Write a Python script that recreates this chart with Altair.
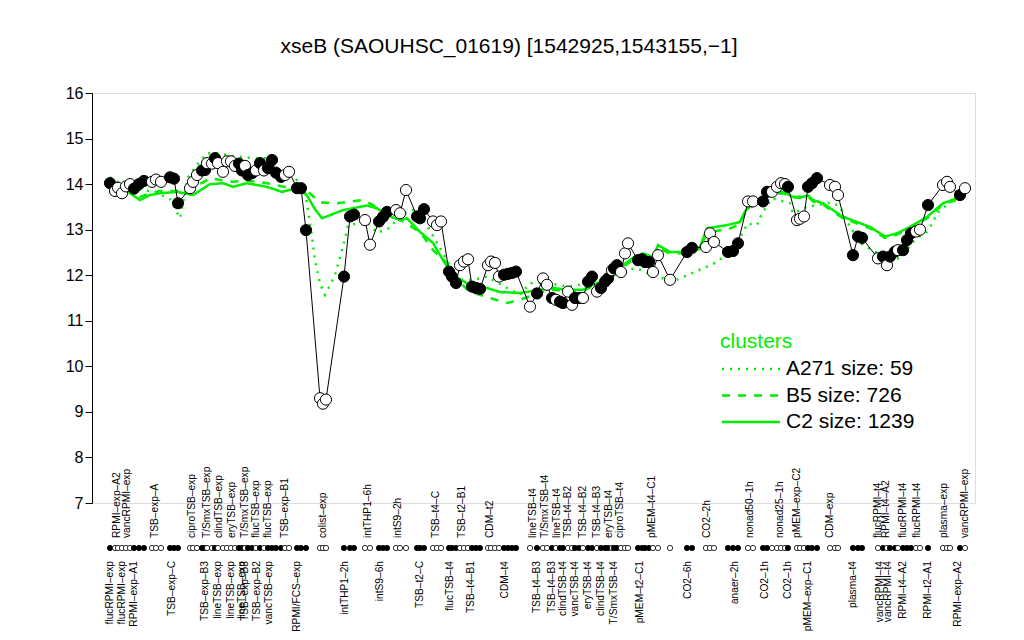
import altair as alt
import pandas as pd

TITLE = "xseB (SAOUHSC_01619) [1542925,1543155,\u22121]"
FONT = "Liberation Sans"
GREEN = "#00EE00"

# sample positions along the ordered sample axis, expression values, filled (1) / open (0)
pos = [110, 115, 118, 122, 126, 130, 134, 139, 144,
       152, 156, 161,
       170, 174, 178,
       190, 193, 197,
       202, 205, 207, 212, 215, 218, 223, 227, 231, 235, 239, 242, 245, 248, 252, 256,
       260, 264, 268, 272, 276, 281, 285, 289,
       297, 301, 306,
       320, 323, 326,
       344, 350, 354,
       365, 370,
       379, 383, 387,
       396, 400, 406,
       417, 420, 424,
       433, 437, 441,
       449, 452, 456,
       460, 464, 468,
       472, 476, 480,
       488, 491, 495, 499,
       504, 508, 512, 516,
       530, 537, 543, 547, 552, 556, 560, 563, 568, 572, 575, 579, 583, 588, 592, 597,
       601, 605, 608, 612, 614, 617, 621, 625, 628,
       638, 642, 645, 649,
       653, 658, 670,
       687, 692,
       706, 710, 714,
       728, 733, 738,
       748, 753,
       763, 767,
       772, 777, 781, 785, 788,
       797, 800, 804,
       808, 812, 817,
       830, 835, 838,
       853, 858, 862,
       878, 883, 887, 890, 895, 898, 903, 907, 911, 916, 920,
       928,
       943, 947, 950,
       960, 965]
val = [14.02, 13.85, 13.92, 13.80, 13.95, 14.00, 13.90, 14.00, 14.07,
       14.05, 14.10, 14.05,
       14.15, 14.12, 13.58,
       13.91, 14.05, 14.20,
       14.30, 14.31, 14.46, 14.45, 14.57, 14.46, 14.27, 14.50, 14.50, 14.40, 14.45, 14.30, 14.40, 14.20, 14.24, 14.30,
       14.46, 14.30, 14.35, 14.53, 14.25, 14.16, 14.20, 14.27,
       13.91, 13.91, 12.99,
       9.30, 9.18, 9.27,
       11.97, 13.29, 13.33,
       13.21, 12.67,
       13.18, 13.28, 13.39,
       13.43, 13.36, 13.87,
       13.29, 13.25, 13.45,
       13.18, 13.10, 13.18,
       12.08, 11.97, 11.83,
       12.22, 12.30, 12.35,
       11.75, 11.72, 11.70,
       12.22, 12.30, 12.27, 11.97,
       12.01, 12.03, 12.05, 12.08,
       11.31, 11.60, 11.93, 11.79, 11.50, 11.46, 11.42, 11.39, 11.64, 11.35, 11.50, 11.50, 11.50, 11.86, 11.97, 11.64,
       11.72, 11.86, 11.93, 12.11, 12.15, 12.22, 12.07, 12.48, 12.70,
       12.33, 12.35, 12.29, 12.29,
       12.07, 12.44, 11.90,
       12.51, 12.60,
       12.62, 12.92, 12.73,
       12.51, 12.53, 12.70,
       13.62, 13.62,
       13.62, 13.83,
       13.83, 13.94, 14.02, 14.00, 13.94,
       13.21, 13.24, 13.29,
       13.94, 14.02, 14.13,
       13.98, 13.94, 13.76,
       12.44, 12.85, 12.82,
       12.37, 12.41, 12.22, 12.41, 12.52, 12.55, 12.55, 12.77, 12.92, 12.96, 13.00,
       13.54,
       13.98, 14.05, 13.94,
       13.76, 13.91]
filled = [1, 0, 0, 0, 0, 0, 1, 1, 1,
          0, 0, 0,
          1, 1, 1,
          0, 0, 0,
          1, 1, 0, 0, 1, 0, 0, 0, 0, 0, 1, 1, 0, 1, 1, 0,
          1, 0, 1, 1, 1, 1, 0, 0,
          1, 1, 1,
          0, 0, 0,
          1, 1, 1,
          0, 0,
          1, 1, 1,
          0, 0, 0,
          1, 1, 1,
          0, 0, 0,
          1, 1, 1,
          0, 0, 0,
          1, 1, 1,
          0, 0, 0, 0,
          1, 1, 1, 1,
          0, 1, 0, 0, 1, 0, 1, 1, 0, 0, 1, 1, 0, 1, 1, 0,
          1, 1, 1, 0, 1, 1, 0, 0, 0,
          1, 1, 1, 1,
          0, 0, 0,
          1, 1,
          0, 0, 0,
          1, 1, 1,
          0, 0,
          1, 1,
          0, 0, 0, 0, 1,
          0, 0, 0,
          1, 1, 1,
          0, 0, 0,
          1, 1, 1,
          0, 1, 0, 1, 1, 0, 1, 1, 1, 0, 0,
          1,
          0, 0, 0,
          1, 0]

# sample-name tick labels (upper row and lower row)
top_labels = ["RPMI\u2013exp\u2013A2", "vancRPMI\u2013exp", "TSB\u2013exp\u2013A", "ciproTSB\u2013exp",
              "T/SmxTSB\u2013exp", "clindTSB\u2013exp", "eryTSB\u2013exp", "T/SmxTSB\u2013exp",
              "flucTSB\u2013exp", "flucTSB\u2013exp", "TSB\u2013exp\u2013B1", "colist\u2013exp",
              "intTHP1\u20136h", "intS9\u20132h", "TSB\u2013t4\u2013C", "TSB\u2013t2\u2013B1", "CDM\u2013t2",
              "lineTSB\u2013t4", "T/SmxTSB\u2013t4", "lineTSB\u2013t4", "TSB\u2013t4\u2013B2",
              "TSB\u2013t4\u2013B2", "TSB\u2013t4\u2013B3", "eryTSB\u2013t4", "ciproTSB\u2013t4",
              "pMEM\u2013t4\u2013C1", "CO2\u20132h", "nonad50\u20131h", "nonad25\u20131h",
              "pMEM\u2013exp\u2013C2", "CDM\u2013exp", "flucRPMI\u2013t4", "RPMI\u2013t4\u2013A2",
              "flucRPMI\u2013t4", "flucRPMI\u2013t4", "plasma\u2013exp", "vancRPMI\u2013exp"]
top_pos = [117, 127, 155, 192, 207, 219, 232, 245, 256, 268, 285, 323,
           368, 398, 436, 462, 490, 533, 545, 557, 568, 583, 597, 609, 620,
           652, 707, 750, 780, 797, 830, 878, 886, 903, 917, 944, 965]
bot_labels = ["flucRPMI\u2013exp", "flucRPMI\u2013exp", "RPMI\u2013exp\u2013A1", "TSB\u2013exp\u2013C",
              "TSB\u2013exp\u2013B3", "lineTSB\u2013exp", "lineTSB\u2013exp", "lineTSB\u2013exp",
              "TSB\u2013exp\u2013B3", "TSB\u2013exp\u2013B2", "vancTSB\u2013exp", "RPMI/FCS\u2013exp",
              "intTHP1\u20132h", "intS9\u20136h", "TSB\u2013t2\u2013C", "flucTSB\u2013t4", "TSB\u2013t4\u2013B1",
              "CDM\u2013t4", "TSB\u2013t4\u2013B3", "TSB\u2013t4\u2013B3", "clindTSB\u2013t4", "vancTSB\u2013t4",
              "eryTSB\u2013t4", "clindTSB\u2013t4", "T/SmxTSB\u2013t4", "pMEM\u2013t2\u2013C1", "CO2\u20136h",
              "anaer\u20132h", "CO2\u20131h", "CO2\u20131h", "pMEM\u2013exp\u2013C1", "plasma\u2013t4",
              "vancRPMI\u2013t4", "vancRPMI\u2013t4", "RPMI\u2013t4\u2013A2", "RPMI\u2013t2\u2013A1", "RPMI\u2013exp\u2013A2"]
bot_pos = [110, 122, 134, 172, 205, 218, 231, 242, 245, 257, 269, 297,
           345, 380, 420, 450, 471, 505, 537, 552, 563, 575, 588, 601, 614,
           640, 688, 735, 765, 788, 808, 853, 880, 888, 903, 928, 958]

# cluster profiles
a_pos = [110, 125, 143, 155, 170, 180, 188, 198, 207, 217, 227, 235, 242, 252, 267, 277, 293,
         305, 312, 315, 320, 325, 330, 335, 340, 343, 348, 367, 377, 390, 400, 413, 427, 437,
         447, 457, 473, 487, 507, 520, 530, 547, 567, 580, 588, 620, 637, 647, 673, 687, 703,
         715, 722, 743, 747, 757, 762, 772, 790, 793, 807, 832, 840, 850, 863, 872, 893, 903,
         910, 917, 927, 932, 937, 950, 963]
a_val = [14.15, 13.95, 13.87, 13.83, 13.67, 13.25, 14.15, 14.45, 14.68, 14.68, 14.64, 14.60, 14.60,
         14.57, 14.57, 14.35, 14.20, 13.85, 12.85, 12.33, 11.82, 11.57, 11.78, 12.00, 12.40, 12.62,
         13.10, 13.17, 12.93, 13.04, 13.32, 13.43, 13.10, 12.71, 12.33, 11.90, 11.90, 11.97, 11.72,
         11.57, 11.83, 11.83, 11.75, 11.79, 11.83, 12.11, 12.15, 12.05, 11.86, 12.00, 12.15, 12.27,
         12.38, 12.92, 13.13, 13.10, 13.36, 13.69, 13.58, 13.36, 13.50, 13.60, 13.50, 13.06, 12.66,
         12.55, 12.33, 12.41, 12.66, 12.82, 12.95, 13.13, 13.36, 13.60, 13.76]
b_pos = [110, 130, 140, 150, 160, 175, 190, 200, 210, 223, 233, 247, 267, 282, 297, 307, 320,
         337, 363, 373, 387, 400, 420, 433, 447, 457, 470, 487, 507, 520, 540, 553, 567, 583,
         593, 610, 623, 633, 643, 653, 658, 670, 687, 700, 707, 727, 740, 745, 755, 770, 783,
         793, 803, 808, 813, 823, 843, 857, 870, 885, 897, 910, 927, 943, 957, 963]
b_val = [14.00, 13.82, 13.72, 13.80, 13.85, 13.85, 13.85, 14.00, 14.13, 14.08, 14.05, 14.08, 14.02,
         13.95, 13.92, 13.85, 13.60, 13.58, 13.65, 13.54, 13.35, 13.22, 12.95, 12.55, 12.27, 11.90,
         11.63, 11.52, 11.39, 11.46, 11.62, 11.68, 11.66, 11.66, 11.76, 11.92, 12.18, 12.34, 12.44,
         12.37, 12.60, 12.48, 12.49, 12.58, 12.95, 13.00, 13.12, 13.36, 13.58, 13.77, 13.80, 13.70,
         13.70, 13.72, 13.62, 13.55, 13.25, 13.14, 13.03, 12.82, 12.89, 13.03, 13.25, 13.55, 13.66,
         13.70]
c_pos = [110, 130, 140, 150, 160, 177, 193, 210, 223, 233, 247, 267, 282, 297, 307, 315, 322,
         343, 367, 377, 387, 400, 407, 420, 433, 443, 453, 473, 487, 500, 520, 540, 553, 567,
         583, 593, 610, 623, 633, 643, 653, 658, 670, 687, 700, 707, 727, 740, 745, 755, 770,
         783, 793, 803, 808, 813, 823, 843, 857, 870, 885, 897, 910, 927, 943, 957, 963]
c_val = [13.95, 13.80, 13.65, 13.76, 13.80, 13.83, 13.76, 14.00, 14.02, 13.94, 14.02, 13.94, 13.83,
         13.91, 13.75, 13.45, 13.25, 13.43, 13.53, 13.47, 13.32, 13.21, 13.25, 12.95, 12.71, 12.33,
         12.00, 11.75, 11.72, 11.63, 11.61, 11.68, 11.72, 11.68, 11.68, 11.79, 11.94, 12.22, 12.38,
         12.48, 12.40, 12.66, 12.51, 12.51, 12.62, 13.03, 13.10, 13.17, 13.40, 13.62, 13.80, 13.83,
         13.72, 13.72, 13.75, 13.65, 13.58, 13.28, 13.17, 13.06, 12.85, 12.92, 13.06, 13.28, 13.58,
         13.69, 13.72]

cluster_names = ["A271 size: 59", "B5 size: 726", "C2 size: 1239"]
cluster_dash = [[2, 6], [8, 8], [1, 0]]

samples = pd.DataFrame({"pos": pos, "val": val, "order": list(range(len(pos))),
                        "fill": ["black" if f else "white" for f in filled]})
clusters = pd.concat([
    pd.DataFrame({"pos": a_pos, "val": a_val, "cluster": cluster_names[0]}),
    pd.DataFrame({"pos": b_pos, "val": b_val, "cluster": cluster_names[1]}),
    pd.DataFrame({"pos": c_pos, "val": c_val, "cluster": cluster_names[2]}),
])
top_df = pd.DataFrame({"pos": top_pos, "text": top_labels})
bot_df = pd.DataFrame({"pos": bot_pos, "text": bot_labels})
title_df = pd.DataFrame({"t": [TITLE]})

xenc = alt.X("pos:Q", scale=alt.Scale(domain=[92, 975], nice=False, zero=False), axis=None)
yscale = alt.Scale(domain=[7, 16], nice=False, zero=False)
yenc = alt.Y("val:Q", scale=yscale,
             axis=alt.Axis(values=list(range(7, 17)), title=None, grid=False, tickSize=7,
                           labelFontSize=16, labelFont=FONT, labelColor="black",
                           tickColor="black", domainColor="black", labelPadding=2,
                           labelFlush=False, labelOverlap=False))

cl_lines = alt.Chart(clusters).mark_line(color=GREEN, strokeWidth=2.5).encode(
    x=xenc, y=yenc,
    strokeDash=alt.StrokeDash("cluster:N",
                              scale=alt.Scale(domain=cluster_names, range=cluster_dash),
                              legend=None),
)

main_line = alt.Chart(samples).mark_line(color="black", strokeWidth=1).encode(
    x=xenc, y=yenc, order="order:Q")

points = alt.Chart(samples).mark_circle(size=125, stroke="black", strokeWidth=1, opacity=1).encode(
    x=xenc, y=yenc, fill=alt.Fill("fill:N", scale=None))

strip = alt.Chart(samples).mark_circle(size=28, stroke="black", strokeWidth=0.8, opacity=1).encode(
    x=xenc, y=alt.value(455), fill=alt.Fill("fill:N", scale=None))

top_text = alt.Chart(top_df).mark_text(angle=270, align="left", baseline="middle",
                                       fontSize=10.2, font=FONT, color="black").encode(
    x=xenc, y=alt.value(445), text="text:N")
bot_text = alt.Chart(bot_df).mark_text(angle=270, align="right", baseline="middle",
                                       fontSize=10.2, font=FONT, color="black").encode(
    x=xenc, y=alt.value(468), text="text:N")

title = alt.Chart(title_df).mark_text(fontSize=21, font=FONT, color="black",
                                      baseline="middle", align="center").encode(
    x=alt.value(417), y=alt.value(-46), text="t:N")

# manual legend (R style)
legend_layers = [
    alt.Chart(pd.DataFrame({"t": ["clusters"]})).mark_text(
        fontSize=21, font=FONT, color=GREEN, align="left", baseline="middle").encode(
        x=alt.value(628), y=alt.value(249), text="t:N")
]
for i, (name, dash) in enumerate(zip(cluster_names, cluster_dash)):
    yy = 276 + 26.5 * i
    legend_layers.append(
        alt.Chart(pd.DataFrame({"t": [name]})).mark_rule(
            color=GREEN, strokeWidth=2.5, strokeDash=dash).encode(
            x=alt.value(630), x2=alt.value(688), y=alt.value(yy)))
    legend_layers.append(
        alt.Chart(pd.DataFrame({"t": [name]})).mark_text(
            fontSize=21, font=FONT, color="black", align="left", baseline="middle").encode(
            x=alt.value(694), y=alt.value(yy), text="t:N"))

chart = alt.layer(cl_lines, main_line, points, strip, top_text, bot_text, title,
                  *legend_layers).properties(
    width=883, height=410,
    autosize=alt.AutoSizeParams(type="none"),
    padding={"left": 84, "top": 85, "right": 41, "bottom": 129},
).configure_view(stroke=None).configure(background="white")

chart.save("out.html", embed_options={"renderer": "svg", "actions": False})
